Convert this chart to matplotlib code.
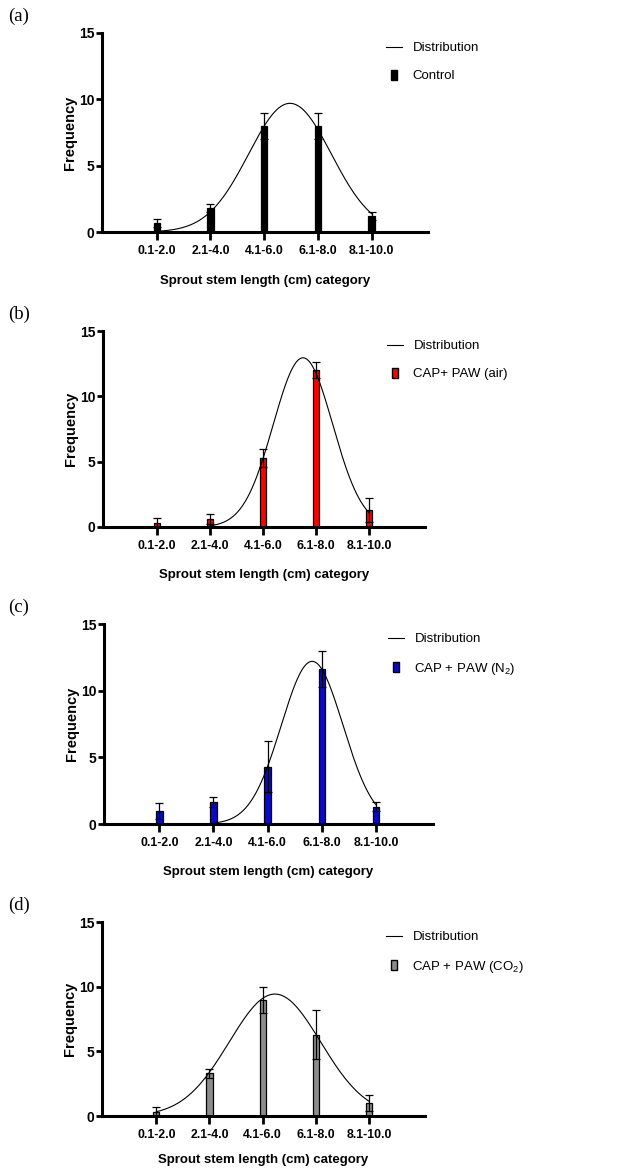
import numpy as np
import matplotlib.pyplot as plt
from matplotlib.lines import Line2D

plt.rcParams['font.family'] = ['Liberation Sans', 'DejaVu Sans']
plt.rcParams['mathtext.fontset'] = 'custom'
plt.rcParams['mathtext.rm'] = 'Liberation Sans'

W, H = 634, 1169

categories = ["0.1-2.0", "2.1-4.0", "4.1-6.0", "6.1-8.0", "8.1-10.0"]

# mean frequency and error (sd) per length category
control_mean = [0.7, 1.8, 8.0, 8.0, 1.2]
control_sd = [0.3, 0.3, 1.0, 1.0, 0.3]
air_mean = [0.3, 0.6, 5.3, 12.0, 1.3]
air_sd = [0.4, 0.4, 0.7, 0.6, 0.9]
n2_mean = [1.0, 1.65, 4.3, 11.65, 1.3]
n2_sd = [0.6, 0.35, 1.9, 1.35, 0.35]
co2_mean = [0.3, 3.3, 9.0, 6.3, 1.0]
co2_sd = [0.4, 0.35, 1.0, 1.9, 0.6]

# fitted normal distribution: peak height, centre, spread (category units), start
control_fit = (9.7, 2.48, 0.77, 0)
air_fit = (12.95, 2.75, 0.56, 1)
n2_fit = (12.2, 2.82, 0.57, 1)
co2_fit = (9.43, 2.23, 0.86, 0)

series_names = ["Control", "CAP+ PAW (air)", "CAP + PAW (N$_{\\mathregular{2}}$)",
                "CAP + PAW (CO$_{\\mathregular{2}}$)"]
panel_tags = ["(a)", "(b)", "(c)", "(d)"]
colors = ["#000000", "#ff0000", "#0a0ac8", "#8c8c8c"]

# axes box in pixels: left, top, right, bottom
boxes = [(102, 33, 428, 232), (103, 331, 425, 527),
         (104, 624, 433, 824), (102, 922, 425, 1116)]
xlabel_pads = [13, 12, 12, 9.5]

means = [control_mean, air_mean, n2_mean, co2_mean]
sds = [control_sd, air_sd, n2_sd, co2_sd]
fits = [control_fit, air_fit, n2_fit, co2_fit]

fig = plt.figure(figsize=(W / 100, H / 100), dpi=100)

# tall rectangle marker for the legend
rect = [(-0.55, -1), (0.55, -1), (0.55, 1), (-0.55, 1), (-0.55, -1)]

x = np.arange(len(categories))
for i in range(4):
    l, t, r, b = boxes[i]
    ax = fig.add_axes([l / W, 1 - b / H, (r - l) / W, (b - t) / H])

    ax.bar(x, means[i], width=0.12, color=colors[i], edgecolor='k', linewidth=0.9, zorder=2)
    ax.errorbar(x, means[i], yerr=sds[i], fmt='none', ecolor='k', elinewidth=0.9,
                capsize=3, capthick=0.9, zorder=3)

    amp, mu, sig, start = fits[i]
    xs = np.linspace(start, 4, 200)
    ax.plot(xs, amp * np.exp(-(xs - mu) ** 2 / (2 * sig ** 2)), color='k', lw=0.8, zorder=4)

    ax.set_xlim(-1.02, 5.05)
    ax.set_ylim(0, 15)
    ax.set_yticks([0, 5, 10, 15])
    ax.set_xticks(x)
    ax.set_xticklabels(categories, fontsize=8.8, fontweight='bold')
    for lab in ax.get_yticklabels():
        lab.set_fontweight('bold')
        lab.set_fontsize(10)
    for s in ['top', 'right']:
        ax.spines[s].set_visible(False)
    for s in ['left', 'bottom']:
        ax.spines[s].set_linewidth(2.2)
    ax.tick_params(axis='x', length=5.5, width=2, pad=4)
    ax.tick_params(axis='y', length=4, width=2, pad=1.5)

    ax.set_xlabel("Sprout stem length (cm) category", fontsize=9.5, fontweight='bold',
                  labelpad=xlabel_pads[i])
    ax.set_ylabel("Frequency", fontsize=10.5, fontweight='bold', labelpad=1.5)

    handles = [Line2D([0], [0], color='k', lw=0.8),
               Line2D([0], [0], marker=rect, ls='none', mfc=colors[i], mec='k', mew=1, ms=7)]
    ax.legend(handles, ["Distribution", series_names[i]], loc='upper left',
              bbox_to_anchor=((l + 284) / W, 1 - (t + 9) / H), bbox_transform=fig.transFigure,
              frameon=False, fontsize=9.5, handlelength=1.2, handletextpad=0.8,
              labelspacing=1.2, borderpad=0, borderaxespad=0)

    fig.text(19 / W, 1 - (t - 17) / H, panel_tags[i], family='Liberation Serif', fontsize=13.5,
             ha='center', va='center')

fig.savefig("out.png", dpi=100)
